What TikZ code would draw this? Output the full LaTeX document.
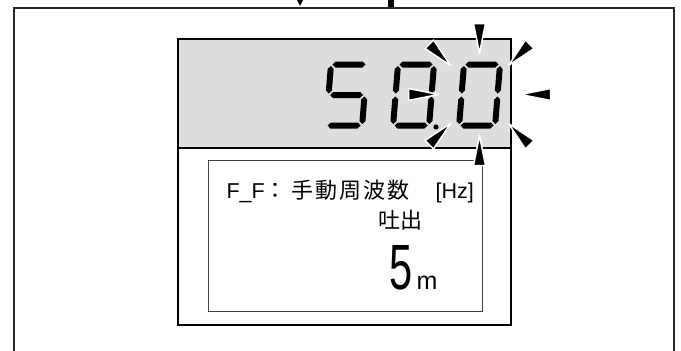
\documentclass[tikz,border=0pt]{standalone}
\usepackage{graphicx}
\usepackage{fontspec}
\setmainfont{Liberation Sans}
\newfontfamily\jpfont{Noto Sans CJK JP}
\usetikzlibrary{calc}

\definecolor{lcdgray}{HTML}{DDDDDD}

% one segment of the LCD digits (pointed ends, thickness 6)
\newcommand{\segh}[3]{\fill (#1,#3) -- (#1+3,#3-3) -- (#2-3,#3-3) -- (#2,#3) -- (#2-3,#3+3) -- (#1+3,#3+3) -- cycle;}
\newcommand{\segv}[3]{\fill (#1,#2) -- (#1+3,#2+3) -- (#1+3,#3-3) -- (#1,#3) -- (#1-3,#3-3) -- (#1-3,#2+3) -- cycle;}
\newcommand{\lcdfive}{\segh{1.5}{34.5}{0}\segv{0}{1.5}{29}\segh{1.5}{34.5}{30.5}\segv{36}{32}{59.5}\segh{1.5}{34.5}{61}}
\newcommand{\lcdzero}{\segh{1.5}{34.5}{0}\segv{36}{1.5}{29}\segv{36}{32}{59.5}\segh{1.5}{34.5}{61}\segv{0}{32}{59.5}\segv{0}{1.5}{29}}

\begin{document}
\begin{tikzpicture}[x=1pt, y=-1pt,
  ray/.style={fill=black, draw=white, line width=1.5pt, line join=round},
  txt/.style={inner sep=0pt, anchor=base west},
  jp/.style={font=\jpfont\fontsize{22}{22}\selectfont}]

\useasboundingbox (0,0) rectangle (681,351);

% ============================
% Pieces cut off at the top
% ============================
\fill (297,0) -- (303,0) -- (300,6) -- cycle;
\fill (388,0) rectangle (394,8);

% ============================
% Outer frame (open at the bottom)
% ============================
\coordinate (oBL) at (14,351);
\coordinate (oTL) at (14,8);
\coordinate (oTR) at (674,8);
\coordinate (oBR) at (674,351);
\draw[line width=1.6pt, black!85] (oBL)--(oTL)--(oTR)--(oBR);

% ============================
% Operation panel
% ============================
\coordinate (pTL) at (178,39);
\coordinate (pBR) at (511,325);
\coordinate (sL) at (178,148);
\coordinate (sR) at (511,148);

\fill[lcdgray] (pTL) rectangle (sR);
\draw[line width=2.5pt] (pTL) rectangle (pBR);
\draw[line width=2.5pt] (sL)--(sR);

% inner text window
\coordinate (wTL) at (208,160);
\coordinate (wBR) at (482,311);
\draw[line width=1pt, black!75] (wTL) rectangle (wBR);

% ============================
% LCD digits  5 0 . 0
% ============================
\begin{scope}[shift={(331,64.5)}, xslant=0.08] \lcdfive \end{scope}
\begin{scope}[shift={(398,64.5)}, xslant=0.08] \lcdzero \end{scope}
\begin{scope}[shift={(464,64.5)}, xslant=0.08] \lcdzero \end{scope}
\fill (436,127) circle (2.6);

% ============================
% Blinking rays round the last digit
% ============================
\coordinate (burst) at (479.5,94.5);
\foreach \a in {0,45,...,315}{
  \filldraw[ray] ($(burst)+(\a:41)$) -- ($(burst)+(\a:71)+(\a+90:6)$)
    -- ($(burst)+(\a:71)+(\a-90:6)$) -- cycle;
}

% ============================
% Texts
% ============================
\node[txt, font=\fontsize{21.5}{21.5}\selectfont] (mode) at (226.3,198)
  {F\_F{\jpfont\fontsize{22}{22}\selectfont ：\hspace{4.8pt}手\hspace{2pt}動\hspace{2pt}周\hspace{2pt}波\hspace{2pt}数}\hspace{26pt}[Hz]};
\node[txt, anchor=base, jp] (pump) at (400,228.5) {吐出};
\node[txt, anchor=base, font=\fontsize{64}{64}\selectfont] (value) at (401,289) {\scalebox{0.65}[1]{5}};
\node[txt, font=\fontsize{25}{25}\selectfont] (unit) at (416.5,289) {m};

\end{tikzpicture}
\end{document}
